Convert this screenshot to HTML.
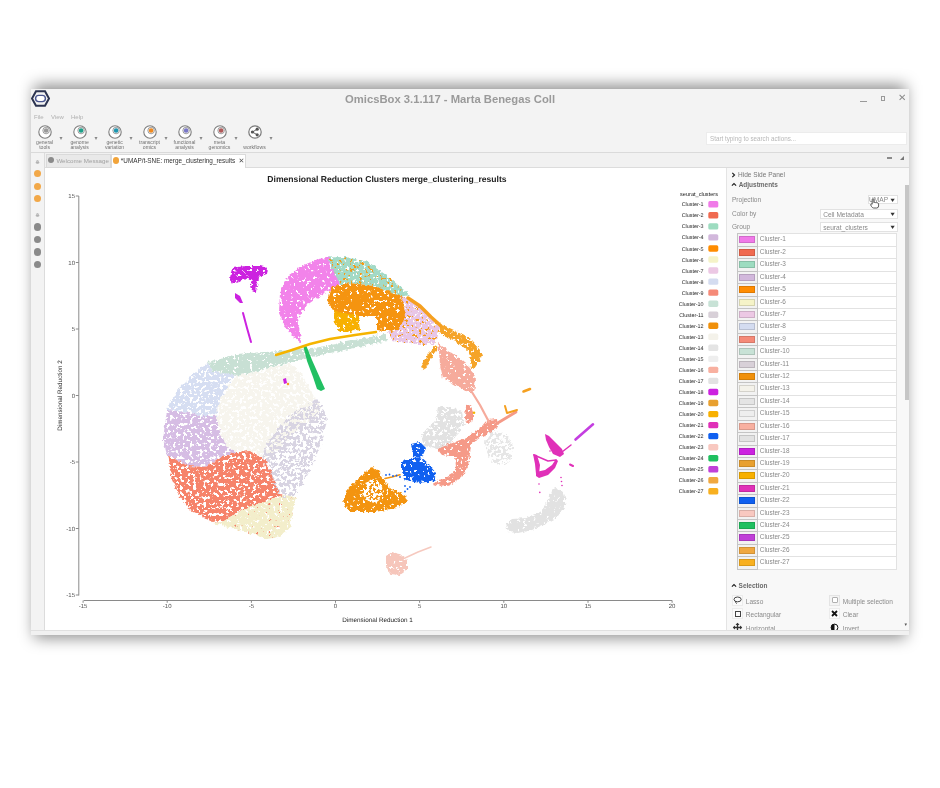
<!DOCTYPE html>
<html><head><meta charset="utf-8"><title>OmicsBox</title>
<style>
*{box-sizing:border-box;margin:0;padding:0}
html,body{width:940px;height:788px;overflow:hidden;background:#fff}
body{filter:blur(.65px)}
body{position:relative;font-family:"Liberation Sans", "DejaVu Sans", sans-serif;color:#555}
.abs{position:absolute}
#shd{position:absolute;left:33.5px;top:85.3px;width:872px;height:553px;background:rgba(0,0,0,.45);filter:blur(7.5px)}
#win{position:absolute;left:30.5px;top:89px;width:878.5px;height:546px;background:#f3f3f3}
#title{position:absolute;left:345px;top:92.5px;white-space:nowrap;font-weight:bold;font-size:11.25px;color:#9a9a9a}
.wc{position:absolute;color:#8a8a8a}
.menu{position:absolute;top:114px;font-size:6px;color:#b0b0b0}
.ti{position:absolute;top:123.7px}
.tl{position:absolute;top:139.6px;width:40px;text-align:center;font-size:5.1px;line-height:5.2px;color:#707070}
.dd{position:absolute;top:133.5px;font-size:6px;color:#888}
#search{position:absolute;left:706px;top:132px;width:200.5px;height:12.5px;background:#fff;border:1px solid #ececec;font-size:6.27px;color:#b8b8b8;padding:2.4px 0 0 3px}
#tbline{position:absolute;left:30.5px;top:152px;width:878.5px;height:1px;background:#dadada}
#tabbar{position:absolute;left:45px;top:153px;width:864px;height:15px;background:#f1f1f1;border-bottom:1px solid #dcdcdc}
.tab{position:absolute;top:154px;height:13.5px;font-size:6.39px;line-height:12.5px;white-space:nowrap}
#sidebar{position:absolute;left:30.5px;top:153px;width:14.5px;height:477px;background:#f3f3f3;border-right:1px solid #dcdcdc}
.sbo{position:absolute;left:34px;width:7.2px;height:7.2px;border-radius:50%;background:#f2a848}
.sbg{position:absolute;left:34px;width:7.2px;height:7.2px;border-radius:50%;background:#8a8a8a}
.sbh{position:absolute;left:35px;font-size:6px;color:#999}
#plot{position:absolute;left:45px;top:168px;width:681px;height:462px;background:#fff}
#rp{position:absolute;left:726px;top:168px;width:183px;height:462px;background:#f8f8f8;border-left:1px solid #e4e4e4}
.rl{position:absolute;font-size:6.55px;color:#8a8a8a;white-space:nowrap}
.sel{position:absolute;background:#fff;border:1px solid #e2e2e2;font-size:6.6px;color:#888;padding:.6px 0 0 2.2px;white-space:nowrap}
.sel b{position:absolute;right:2.5px;top:.3px;font-size:6.5px;color:#333;transform:scaleX(1.3)}
.crow{position:absolute;left:736.6px;width:160.8px;height:13.42px;background:#fff;border:1px solid #e2e2e2}
.cbtn{position:absolute;left:-1px;top:-1px;width:21px;height:13.42px;border:1px solid #c4c4c4;background:#f2f2f2}
.csw{position:absolute;left:1.4px;top:2.2px;width:15.8px;height:7.2px;border:1px solid rgba(0,0,0,.13)}
.crow span{position:absolute;left:22.2px;top:1.2px;font-size:6.45px;color:#888}
#sbar{position:absolute;left:904.6px;top:185px;width:4.4px;height:215px;background:#c6c6c6}
#status{position:absolute;left:30.5px;top:630px;width:878.5px;height:5px;background:#f1f1f1;border-top:1px solid #e0e0e0}
</style></head>
<body>
<div id="shd"></div>
<div id="win"></div>
<svg class="abs" style="left:31px;top:89.5px" width="19" height="17" viewBox="0 0 19 17"><path d="M5 1.2H14L18 8.5L14 15.8H5L1 8.5Z" fill="none" stroke="#2b3350" stroke-width="2"/><rect x="4.6" y="5.4" width="9.8" height="6.2" rx="3.1" fill="#fff" stroke="#4a5690" stroke-width="1.4"/></svg>
<div id="title">OmicsBox 3.1.117 - Marta Benegas Coll</div>
<div class="wc" style="left:860px;top:96px;width:7px;height:1.3px;background:#999;top:100.5px"></div>
<div class="wc" style="left:880.5px;top:96px;width:4.6px;height:4.6px;border:1px solid #9a9a9a"></div>
<div class="wc" style="left:898px;top:91.5px;font-size:10px;color:#8a8a8a">&#x2715;</div>
<div class="menu" style="left:34px">File</div>
<div class="menu" style="left:51px">View</div>
<div class="menu" style="left:71px">Help</div>
<svg class="ti" style="left:36.6px" width="16" height="16" viewBox="0 0 16 16"><circle cx="8" cy="8" r="6.2" fill="#fff" stroke="#7e7e7e" stroke-width="1.1"/><circle cx="9.1" cy="6.5" r="3.3" fill="#f4f4f4" stroke="#8a8a8a" stroke-width=".8"/><circle cx="9.1" cy="6.5" r="2.3" fill="#9a9a9a"/></svg>
<div class="tl" style="left:24.6px">general<br>tools</div>
<div class="dd" style="left:59.6px">&#9662;</div>
<svg class="ti" style="left:71.6px" width="16" height="16" viewBox="0 0 16 16"><circle cx="8" cy="8" r="6.2" fill="#fff" stroke="#7e7e7e" stroke-width="1.1"/><circle cx="9.1" cy="6.5" r="3.3" fill="#f4f4f4" stroke="#8a8a8a" stroke-width=".8"/><circle cx="9.1" cy="6.5" r="2.3" fill="#1ea08a"/></svg>
<div class="tl" style="left:59.6px">genome<br>analysis</div>
<div class="dd" style="left:94.6px">&#9662;</div>
<svg class="ti" style="left:106.6px" width="16" height="16" viewBox="0 0 16 16"><circle cx="8" cy="8" r="6.2" fill="#fff" stroke="#7e7e7e" stroke-width="1.1"/><circle cx="9.1" cy="6.5" r="3.3" fill="#f4f4f4" stroke="#8a8a8a" stroke-width=".8"/><circle cx="9.1" cy="6.5" r="2.3" fill="#1e96b0"/></svg>
<div class="tl" style="left:94.6px">genetic<br>variation</div>
<div class="dd" style="left:129.6px">&#9662;</div>
<svg class="ti" style="left:141.5px" width="16" height="16" viewBox="0 0 16 16"><circle cx="8" cy="8" r="6.2" fill="#fff" stroke="#7e7e7e" stroke-width="1.1"/><circle cx="9.1" cy="6.5" r="3.3" fill="#f4f4f4" stroke="#8a8a8a" stroke-width=".8"/><circle cx="9.1" cy="6.5" r="2.3" fill="#f08a20"/></svg>
<div class="tl" style="left:129.5px">transcript<br>omics</div>
<div class="dd" style="left:164.5px">&#9662;</div>
<svg class="ti" style="left:176.5px" width="16" height="16" viewBox="0 0 16 16"><circle cx="8" cy="8" r="6.2" fill="#fff" stroke="#7e7e7e" stroke-width="1.1"/><circle cx="9.1" cy="6.5" r="3.3" fill="#f4f4f4" stroke="#8a8a8a" stroke-width=".8"/><circle cx="9.1" cy="6.5" r="2.3" fill="#7a78c8"/></svg>
<div class="tl" style="left:164.5px">functional<br>analysis</div>
<div class="dd" style="left:199.5px">&#9662;</div>
<svg class="ti" style="left:211.5px" width="16" height="16" viewBox="0 0 16 16"><circle cx="8" cy="8" r="6.2" fill="#fff" stroke="#7e7e7e" stroke-width="1.1"/><circle cx="9.1" cy="6.5" r="3.3" fill="#f4f4f4" stroke="#8a8a8a" stroke-width=".8"/><circle cx="9.1" cy="6.5" r="2.3" fill="#b05a5a"/></svg>
<div class="tl" style="left:199.5px">meta<br>genomics</div>
<div class="dd" style="left:234.5px">&#9662;</div>
<svg class="ti" style="left:246.5px" width="16" height="16" viewBox="0 0 16 16"><circle cx="8" cy="8" r="6.2" fill="#fff" stroke="#7a7a7a" stroke-width="1.2"/><circle cx="10.2" cy="5.2" r="1.6" fill="#555"/><circle cx="10.2" cy="10.8" r="1.6" fill="#555"/><circle cx="5.4" cy="8" r="1.6" fill="#555"/><path d="M10.2 5.2L5.4 8L10.2 10.8" stroke="#555" stroke-width=".9" fill="none"/></svg>
<div class="tl" style="left:234.5px;top:145px">workflows</div>
<div class="dd" style="left:269.5px">&#9662;</div>
<div id="search">Start typing to search actions...</div>
<div id="tbline"></div>
<div id="tabbar"></div>
<div class="tab" style="left:46px;width:64.5px;background:#e9e9e9;border:1px solid #dadada;color:#a0a0a0;padding-left:9.4px;font-size:6.2px">Welcome Message</div>
<div class="abs" style="left:47.5px;top:157.3px;width:6px;height:6px;border-radius:50%;background:#8a8a8a"></div>
<div class="tab" style="left:110.5px;width:135.5px;background:#fff;border:1px solid #dadada;border-bottom:none;color:#333;padding-left:9.3px">*UMAP/t-SNE: merge_clustering_results</div>
<div class="abs" style="left:112.5px;top:157px;width:6.5px;height:6.5px;border-radius:50%;background:#f2a43a"></div>
<div class="abs" style="left:238.5px;top:157.2px;font-size:7px;color:#555">&#x2715;</div>
<div class="abs" style="left:886.5px;top:157.2px;width:5px;height:1.6px;background:#8a8a8a"></div>
<div class="abs" style="left:900px;top:155.5px;width:0;height:0;border-left:4.5px solid transparent;border-bottom:4.5px solid #777"></div>
<div id="sidebar"></div>
<div class="sbh" style="top:158px">&#8903;</div>
<div class="sbo" style="top:170.3px"></div>
<div class="sbo" style="top:182.6px"></div>
<div class="sbo" style="top:195.0px"></div>
<div class="sbh" style="top:211px">&#8903;</div>
<div class="sbg" style="top:223.4px"></div>
<div class="sbg" style="top:236.0px"></div>
<div class="sbg" style="top:248.4px"></div>
<div class="sbg" style="top:260.8px"></div>
<div id="plot"></div>
<svg class="abs" style="left:45px;top:168px" width="681" height="462" viewBox="45 168 681 462" font-family='"Liberation Sans", "DejaVu Sans", sans-serif' text-rendering="geometricPrecision">
<defs>
<filter id="fd" filterUnits="userSpaceOnUse" x="45" y="168" width="681" height="462" color-interpolation-filters="sRGB"><feTurbulence type="fractalNoise" baseFrequency="0.3" numOctaves="2" seed="3" result="t1"/><feDisplacementMap in="SourceGraphic" in2="t1" scale="5" xChannelSelector="R" yChannelSelector="G" result="dd"/><feTurbulence type="fractalNoise" baseFrequency="0.3" numOctaves="3" seed="26" result="t2"/><feColorMatrix in="t2" type="matrix" values="0 0 0 0 0  0 0 0 0 0  0 0 0 0 0  0 0 16 0 -4.8" result="m"/><feComposite in="dd" in2="m" operator="in"/></filter>
<filter id="fm" filterUnits="userSpaceOnUse" x="45" y="168" width="681" height="462" color-interpolation-filters="sRGB"><feTurbulence type="fractalNoise" baseFrequency="0.3" numOctaves="2" seed="3" result="t1"/><feDisplacementMap in="SourceGraphic" in2="t1" scale="5" xChannelSelector="R" yChannelSelector="G" result="dd"/><feTurbulence type="fractalNoise" baseFrequency="0.3" numOctaves="3" seed="18" result="t2"/><feColorMatrix in="t2" type="matrix" values="0 0 0 0 0  0 0 0 0 0  0 0 0 0 0  0 0 16 0 -5.92" result="m"/><feComposite in="dd" in2="m" operator="in"/></filter>
<filter id="fs" filterUnits="userSpaceOnUse" x="45" y="168" width="681" height="462" color-interpolation-filters="sRGB"><feTurbulence type="fractalNoise" baseFrequency="0.3" numOctaves="2" seed="3" result="t1"/><feDisplacementMap in="SourceGraphic" in2="t1" scale="5" xChannelSelector="R" yChannelSelector="G" result="dd"/><feTurbulence type="fractalNoise" baseFrequency="0.3" numOctaves="3" seed="24" result="t2"/><feColorMatrix in="t2" type="matrix" values="0 0 0 0 0  0 0 0 0 0  0 0 0 0 0  0 0 16 0 -7.36" result="m"/><feComposite in="dd" in2="m" operator="in"/></filter>
<filter id="fv" filterUnits="userSpaceOnUse" x="45" y="168" width="681" height="462" color-interpolation-filters="sRGB"><feTurbulence type="fractalNoise" baseFrequency="0.3" numOctaves="2" seed="3" result="t1"/><feDisplacementMap in="SourceGraphic" in2="t1" scale="5" xChannelSelector="R" yChannelSelector="G" result="dd"/><feTurbulence type="fractalNoise" baseFrequency="0.32" numOctaves="3" seed="27" result="t2"/><feColorMatrix in="t2" type="matrix" values="0 0 0 0 0  0 0 0 0 0  0 0 0 0 0  0 0 16 0 -9.92" result="m"/><feComposite in="dd" in2="m" operator="in"/></filter>
<filter id="fw" filterUnits="userSpaceOnUse" x="45" y="168" width="681" height="462" color-interpolation-filters="sRGB"><feTurbulence type="fractalNoise" baseFrequency="0.3" numOctaves="2" seed="3" result="t1"/><feDisplacementMap in="SourceGraphic" in2="t1" scale="5" xChannelSelector="R" yChannelSelector="G" result="dd"/><feTurbulence type="fractalNoise" baseFrequency="0.32" numOctaves="3" seed="11" result="t2"/><feColorMatrix in="t2" type="matrix" values="0 0 0 0 0  0 0 0 0 0  0 0 0 0 0  0 0 16 0 -11.52" result="m"/><feComposite in="dd" in2="m" operator="in"/></filter>
</defs>
<g filter="url(#fm)">
<polygon fill="#f7f5ee" points="237,376 262,370 290,363 300,372 310,390 320,406 318,416 300,428 285,442 272,456 262,458 256,452 249,452 230,453 222,440 215,424 216,406 224,390"/>
<polygon fill="#d6def2" points="213,371 237,376 232,378 221,398 216,416 202,416 188,412 167,410 170,402 180,387 193,374 208,363"/>
<polygon fill="#d6bde4" points="167,410 188,412 202,416 216,416 219,429 227,448 237,452 222,456 206,467 188,466 167,455 163,440"/>
</g>
<g filter="url(#fs)">
<polygon fill="#d8d4e2" points="290,414 308,406 316,398 321,403 327,419 323,440 312,467 300,488 291,500 279,499 270,476 262,456 268,440 280,426"/>
</g>
<g filter="url(#fm)">
<polygon fill="#f6836a" points="167,455 188,466 206,467 222,456 237,452 250,451 266,461 273,478 279,493 283,495 262,502 241,510 224,521 213,523 198,514 190,510 180,497 172,480"/>
</g>
<g filter="url(#fd)">
<polygon fill="#f3eecb" points="213,523 224,521 241,510 262,502 283,495 296,497 293,510 290,528 280,537 266,539 240,530"/>
</g>
<g filter="url(#fw)">
<polygon fill="#f47c64" points="213,523 224,521 241,510 262,502 283,495 296,497 293,510 290,528 280,537 266,539 240,530"/>
</g>
<g filter="url(#fd)">
<polygon fill="#c8e0d4" points="208,363 236,354 280,351 320,347 350,341 385,334 388,341 350,349 320,355 290,362 262,370 237,376 213,371"/>
<polygon fill="#f283ea" points="330,257.5 318,259 304,265 289,275 280,292 279,313 284,325 292,335 301,343 300,332 297,320 307,305 321,295 335,287 341,284 336,272"/>
<polygon fill="#a3dac6" points="328,257.5 345,257 368,262 386,275 404,290 410,295 400,297 374,286 350,283 340,285 334,272"/>
<polygon fill="#e8c6e6" points="398,296 410,298 421,307 431,318 440,327 437,338 434,344 418,344 400,342 392,340 388,332 396,318"/>
</g>
<g filter="url(#fv)">
<polygon fill="#f59a14" points="328,257.5 345,257 368,262 386,275 404,290 410,295 400,297 374,286 350,283 340,285 334,272"/>
<polygon fill="#f59a14" points="398,296 410,298 421,307 431,318 440,327 437,338 434,344 418,344 400,342 392,340 388,332 396,318"/>
</g>
<g filter="url(#fd)">
<polygon fill="#f59410" points="330,290 333,286 350,283 374,286 400,296 404,302 405,318 398,330 383,331 377,330 377,316 360,316 356,330 340,332 335,320 334,312 327,300"/>
<polygon fill="#f7b000" points="334,312 345,313 358,316 360,330 350,332 340,332 335,322"/>
<polygon fill="#f5a428" points="439,323 456,331 471,340 480,350 482,356 478,363 474,369 470,366 471,358 468,351 456,341 441,335"/>
<polygon fill="#f5a428" points="435,345 439,348 430,360 424,370 420,367 427,356"/>
<polygon fill="#f6ab9c" points="438,343 446,349 459,358 471,368 476,380 474,392 467,392 455,385 443,378 440,365 439,351"/>
</g>
<polygon fill="#22c063" points="303,345 306,345 312,360 320,378 325,389 321,391 317,389 313,377 307,361"/>
<g filter="url(#fd)">
<polygon fill="#cc22e0" points="232,268 245,266 260,266 268,268 267,274 258,277 257,286 256,292 252,290 250,280 244,278 238,282 233,284 230,278"/>
</g>
<polygon fill="#cc22e0" points="235,293 240,296 243,303 240,303 235,298"/>
<polygon fill="#cc22e0" points="283,379 286,378 287,383 284,384"/>
<g filter="url(#fd)">
<polygon fill="#f39410" points="344,498 349,487 356,481 367,471 373,467 378,471 384,479 391,489 401,493 407,497 406,503 396,508 375,512 350,512 345,506"/>
</g>
<g filter="url(#fs)">
<polygon fill="#ffffff" points="366,482 374,478 382,486 384,497 377,503 367,502 362,494"/>
</g>
<g filter="url(#fm)">
<polygon fill="#e2e2e2" points="438,407 452,407 462,412 464,425 460,432 452,440 450,448 436,449 424,446 421,436 428,427 436,420"/>
</g>
<g filter="url(#fs)">
<polygon fill="#e6e6e6" points="486,432 498,430 508,436 513,446 512,458 505,465 494,464 488,455 485,443"/>
</g>
<g filter="url(#fd)">
<polygon fill="#f59a88" points="437,449 450,444 460,440 468,437 471,442 470,455 468,466 462,476 452,484 440,486 434,484 437,480 444,479 452,474 456,466 455,456 450,456 442,455"/>
<polygon fill="#f59a88" points="462,441 472,434 482,427 488,420 497,419 498,428 490,432 480,437 470,444"/>
<polygon fill="#f59a88" points="466,406 470,405 473,412 473,420 468,424 465,418"/>
<polygon fill="#1060f0" points="402,462 412,458 420,457 430,466 436,473 434,481 420,483 406,480 402,472"/>
<polygon fill="#1060f0" points="411,444 420,442 426,448 422,457 413,457"/>
</g>
<polygon fill="#e030b8" points="545,434 549,436 556,443 562,449 564,454 560,457 553,454 549,447 546,440"/>
<polygon fill="#e030b8" points="536,472 545,470 552,465 556,459 558,461 555,468 548,475 539,478 536,476"/>
<polygon fill="#e030b8" points="533,454 537,455 540,465 539,474 536,474 535,464"/>
<g filter="url(#fd)">
<polygon fill="#e2e2e2" points="556,488 563,492 566,500 563,510 556,518 545,524 532,530 518,533 508,532 506,524 512,519 527,518 540,512 546,505 549,496 551,490"/>
<polygon fill="#f6c6bb" points="386,556 392,552 400,554 407,560 407,570 400,575 390,574 386,566"/>
</g>
<polyline fill="none" stroke="#f5a020" stroke-width="3.5" stroke-linecap="round" stroke-linejoin="round" points="408,298 420,306 431,317 441,326"/>
<polyline fill="none" stroke="#f6ab9c" stroke-width="2.2" stroke-linecap="round" stroke-linejoin="round" points="470,389 480,405 489,422"/>
<polyline fill="none" stroke="#f5b400" stroke-width="2.5" stroke-linecap="round" stroke-linejoin="round" points="276,355 292,350 310,344 330,339 355,335 376,332"/>
<polyline fill="none" stroke="#cc22e0" stroke-width="2" stroke-linecap="round" stroke-linejoin="round" points="243,313 247,328 251,342"/>
<polyline fill="none" stroke="#f39410" stroke-width="1.6" stroke-linecap="round" stroke-linejoin="round" points="385,478.5 392,477 400,474.7"/>
<polyline fill="none" stroke="#f59a88" stroke-width="2.8" stroke-linecap="round" stroke-linejoin="round" points="496,424 506,418 516,412"/>
<polyline fill="none" stroke="#e030b8" stroke-width="1.4" stroke-linecap="round" stroke-linejoin="round" points="534,455 548,461 556,460"/>
<polyline fill="none" stroke="#e030b8" stroke-width="1.5" stroke-linecap="round" stroke-linejoin="round" points="562,452 571,445"/>
<polyline fill="none" stroke="#c43ee0" stroke-width="2.6" stroke-linecap="round" stroke-linejoin="round" points="575.5,439.5 593,424.3"/>
<polyline fill="none" stroke="#e030b8" stroke-width="2" stroke-linecap="round" stroke-linejoin="round" points="570,464.5 573,466"/>
<polyline fill="none" stroke="#f6c9bf" stroke-width="1.5" stroke-linecap="round" stroke-linejoin="round" points="405,558 418,552 431,547"/>
<polyline fill="none" stroke="#f5a020" stroke-width="2.6" stroke-linecap="round" stroke-linejoin="round" points="523.5,391.5 530,389"/>
<polyline fill="none" stroke="#f5a020" stroke-width="2" stroke-linecap="round" stroke-linejoin="round" points="505,406 507,413 517,410"/>
<circle fill="#f5a020" cx="288" cy="384" r="1.2"/>
<circle fill="#1060f0" cx="386" cy="475" r="0.9"/>
<circle fill="#1060f0" cx="389.5" cy="474.5" r="0.9"/>
<circle fill="#1060f0" cx="393" cy="476" r="0.9"/>
<circle fill="#1060f0" cx="396.5" cy="475.5" r="0.9"/>
<circle fill="#1060f0" cx="400" cy="477" r="0.9"/>
<circle fill="#1060f0" cx="405" cy="486" r="0.9"/>
<circle fill="#1060f0" cx="407.5" cy="489" r="0.9"/>
<circle fill="#1060f0" cx="405" cy="491.5" r="0.9"/>
<circle fill="#1060f0" cx="410" cy="487" r="0.9"/>
<circle fill="#e030b8" cx="561" cy="477.5" r="0.8"/>
<circle fill="#e030b8" cx="561.5" cy="481.5" r="0.8"/>
<circle fill="#e030b8" cx="562" cy="485.5" r="0.8"/>
<circle fill="#e030b8" cx="539" cy="484" r="0.8"/>
<circle fill="#e030b8" cx="539.8" cy="492.4" r="0.8"/>
<circle fill="#e030b8" cx="550" cy="451" r="0.8"/>
<circle fill="#f5b400" cx="474" cy="412.7" r="1.3"/>
<path d="M78.8 196V595.5" stroke="#8a8a8a" stroke-width="1" fill="none"/>
<path d="M75.8 196.0H78.8" stroke="#8a8a8a" stroke-width="1"/>
<text x="75" y="198.0" text-anchor="end" font-size="6" fill="#555">15</text>
<path d="M75.8 262.5H78.8" stroke="#8a8a8a" stroke-width="1"/>
<text x="75" y="264.5" text-anchor="end" font-size="6" fill="#555">10</text>
<path d="M75.8 329.0H78.8" stroke="#8a8a8a" stroke-width="1"/>
<text x="75" y="331.0" text-anchor="end" font-size="6" fill="#555">5</text>
<path d="M75.8 395.5H78.8" stroke="#8a8a8a" stroke-width="1"/>
<text x="75" y="397.5" text-anchor="end" font-size="6" fill="#555">0</text>
<path d="M75.8 462.0H78.8" stroke="#8a8a8a" stroke-width="1"/>
<text x="75" y="464.0" text-anchor="end" font-size="6" fill="#555">-5</text>
<path d="M75.8 528.5H78.8" stroke="#8a8a8a" stroke-width="1"/>
<text x="75" y="530.5" text-anchor="end" font-size="6" fill="#555">-10</text>
<path d="M75.8 595.0H78.8" stroke="#8a8a8a" stroke-width="1"/>
<text x="75" y="597.0" text-anchor="end" font-size="6" fill="#555">-15</text>
<path d="M83.6 600.5H672.1" stroke="#8a8a8a" stroke-width="1" fill="none"/>
<path d="M83.1 600.5V602.8" stroke="#8a8a8a" stroke-width="1"/>
<text x="83.1" y="608.3" text-anchor="middle" font-size="6" fill="#555">-15</text>
<path d="M167.2 600.5V602.8" stroke="#8a8a8a" stroke-width="1"/>
<text x="167.2" y="608.3" text-anchor="middle" font-size="6" fill="#555">-10</text>
<path d="M251.4 600.5V602.8" stroke="#8a8a8a" stroke-width="1"/>
<text x="251.4" y="608.3" text-anchor="middle" font-size="6" fill="#555">-5</text>
<path d="M335.5 600.5V602.8" stroke="#8a8a8a" stroke-width="1"/>
<text x="335.5" y="608.3" text-anchor="middle" font-size="6" fill="#555">0</text>
<path d="M419.6 600.5V602.8" stroke="#8a8a8a" stroke-width="1"/>
<text x="419.6" y="608.3" text-anchor="middle" font-size="6" fill="#555">5</text>
<path d="M503.8 600.5V602.8" stroke="#8a8a8a" stroke-width="1"/>
<text x="503.8" y="608.3" text-anchor="middle" font-size="6" fill="#555">10</text>
<path d="M588.0 600.5V602.8" stroke="#8a8a8a" stroke-width="1"/>
<text x="588.0" y="608.3" text-anchor="middle" font-size="6" fill="#555">15</text>
<path d="M672.1 600.5V602.8" stroke="#8a8a8a" stroke-width="1"/>
<text x="672.1" y="608.3" text-anchor="middle" font-size="6" fill="#555">20</text>
<text x="377.5" y="621.5" text-anchor="middle" font-size="6.35" fill="#222">Dimensional Reduction 1</text>
<text transform="translate(62 395.5) rotate(-90)" text-anchor="middle" font-size="6.35" fill="#222">Dimensional Reduction 2</text>
<text x="387" y="181.5" text-anchor="middle" font-size="8.6" font-weight="bold" fill="#222">Dimensional Reduction Clusters merge_clustering_results</text>
<text x="718" y="195.6" text-anchor="end" font-size="5.6" fill="#222">seurat_clusters</text>
<text x="703.6" y="206.3" text-anchor="end" font-size="5.4" fill="#222">Cluster-1</text>
<rect x="708.3" y="201.1" width="10" height="6.4" rx="1.6" fill="#f07ae8"/>
<text x="703.6" y="217.3" text-anchor="end" font-size="5.4" fill="#222">Cluster-2</text>
<rect x="708.3" y="212.1" width="10" height="6.4" rx="1.6" fill="#f06a50"/>
<text x="703.6" y="228.4" text-anchor="end" font-size="5.4" fill="#222">Cluster-3</text>
<rect x="708.3" y="223.2" width="10" height="6.4" rx="1.6" fill="#9ddcc0"/>
<text x="703.6" y="239.4" text-anchor="end" font-size="5.4" fill="#222">Cluster-4</text>
<rect x="708.3" y="234.2" width="10" height="6.4" rx="1.6" fill="#d2b8dc"/>
<text x="703.6" y="250.5" text-anchor="end" font-size="5.4" fill="#222">Cluster-5</text>
<rect x="708.3" y="245.3" width="10" height="6.4" rx="1.6" fill="#ff8c00"/>
<text x="703.6" y="261.5" text-anchor="end" font-size="5.4" fill="#222">Cluster-6</text>
<rect x="708.3" y="256.3" width="10" height="6.4" rx="1.6" fill="#f5f3c8"/>
<text x="703.6" y="272.5" text-anchor="end" font-size="5.4" fill="#222">Cluster-7</text>
<rect x="708.3" y="267.3" width="10" height="6.4" rx="1.6" fill="#ecc8e4"/>
<text x="703.6" y="283.6" text-anchor="end" font-size="5.4" fill="#222">Cluster-8</text>
<rect x="708.3" y="278.4" width="10" height="6.4" rx="1.6" fill="#d4dcf0"/>
<text x="703.6" y="294.6" text-anchor="end" font-size="5.4" fill="#222">Cluster-9</text>
<rect x="708.3" y="289.4" width="10" height="6.4" rx="1.6" fill="#f58a78"/>
<text x="703.6" y="305.7" text-anchor="end" font-size="5.4" fill="#222">Cluster-10</text>
<rect x="708.3" y="300.5" width="10" height="6.4" rx="1.6" fill="#c8e2d6"/>
<text x="703.6" y="316.7" text-anchor="end" font-size="5.4" fill="#222">Cluster-11</text>
<rect x="708.3" y="311.5" width="10" height="6.4" rx="1.6" fill="#d8d0d8"/>
<text x="703.6" y="327.7" text-anchor="end" font-size="5.4" fill="#222">Cluster-12</text>
<rect x="708.3" y="322.5" width="10" height="6.4" rx="1.6" fill="#f0900a"/>
<text x="703.6" y="338.8" text-anchor="end" font-size="5.4" fill="#222">Cluster-13</text>
<rect x="708.3" y="333.6" width="10" height="6.4" rx="1.6" fill="#f4f2ea"/>
<text x="703.6" y="349.8" text-anchor="end" font-size="5.4" fill="#222">Cluster-14</text>
<rect x="708.3" y="344.6" width="10" height="6.4" rx="1.6" fill="#e4e4e4"/>
<text x="703.6" y="360.9" text-anchor="end" font-size="5.4" fill="#222">Cluster-15</text>
<rect x="708.3" y="355.7" width="10" height="6.4" rx="1.6" fill="#eeeeee"/>
<text x="703.6" y="371.9" text-anchor="end" font-size="5.4" fill="#222">Cluster-16</text>
<rect x="708.3" y="366.7" width="10" height="6.4" rx="1.6" fill="#f8b0a0"/>
<text x="703.6" y="382.9" text-anchor="end" font-size="5.4" fill="#222">Cluster-17</text>
<rect x="708.3" y="377.7" width="10" height="6.4" rx="1.6" fill="#e2e2e2"/>
<text x="703.6" y="394.0" text-anchor="end" font-size="5.4" fill="#222">Cluster-18</text>
<rect x="708.3" y="388.8" width="10" height="6.4" rx="1.6" fill="#cc22e0"/>
<text x="703.6" y="405.0" text-anchor="end" font-size="5.4" fill="#222">Cluster-19</text>
<rect x="708.3" y="399.8" width="10" height="6.4" rx="1.6" fill="#e8a030"/>
<text x="703.6" y="416.1" text-anchor="end" font-size="5.4" fill="#222">Cluster-20</text>
<rect x="708.3" y="410.9" width="10" height="6.4" rx="1.6" fill="#f8b000"/>
<text x="703.6" y="427.1" text-anchor="end" font-size="5.4" fill="#222">Cluster-21</text>
<rect x="708.3" y="421.9" width="10" height="6.4" rx="1.6" fill="#e030b8"/>
<text x="703.6" y="438.1" text-anchor="end" font-size="5.4" fill="#222">Cluster-22</text>
<rect x="708.3" y="432.9" width="10" height="6.4" rx="1.6" fill="#1060f0"/>
<text x="703.6" y="449.2" text-anchor="end" font-size="5.4" fill="#222">Cluster-23</text>
<rect x="708.3" y="444.0" width="10" height="6.4" rx="1.6" fill="#f8c8c0"/>
<text x="703.6" y="460.2" text-anchor="end" font-size="5.4" fill="#222">Cluster-24</text>
<rect x="708.3" y="455.0" width="10" height="6.4" rx="1.6" fill="#20c060"/>
<text x="703.6" y="471.3" text-anchor="end" font-size="5.4" fill="#222">Cluster-25</text>
<rect x="708.3" y="466.1" width="10" height="6.4" rx="1.6" fill="#c040d8"/>
<text x="703.6" y="482.3" text-anchor="end" font-size="5.4" fill="#222">Cluster-26</text>
<rect x="708.3" y="477.1" width="10" height="6.4" rx="1.6" fill="#f0a840"/>
<text x="703.6" y="493.3" text-anchor="end" font-size="5.4" fill="#222">Cluster-27</text>
<rect x="708.3" y="488.1" width="10" height="6.4" rx="1.6" fill="#f8b020"/>
</svg>
<div id="rp"></div>
<svg class="abs" style="left:730.5px;top:171.5px" width="5" height="6" viewBox="0 0 5 6"><path d="M1.3 .9L3.5 3L1.3 5.1" fill="none" stroke="#222" stroke-width="1.2"/></svg>
<div class="rl" style="left:738px;top:170.5px;color:#777">Hide Side Panel</div>
<svg class="abs" style="left:730.5px;top:182px" width="6" height="5" viewBox="0 0 6 5"><path d="M.9 3.6L3 1.5L5.1 3.6" fill="none" stroke="#222" stroke-width="1.2"/></svg>
<div class="rl" style="left:738.7px;top:180.5px;font-weight:bold;color:#6a6a6a;font-size:6.47px">Adjustments</div>
<div class="rl" style="left:732px;top:195.5px">Projection</div>
<div class="sel" style="left:867.7px;top:194.7px;width:30.2px;height:9.4px;padding:0 0 0 .3px">UMAP<b>&#9662;</b></div>
<svg class="abs" style="left:869.5px;top:198px" width="10" height="11" viewBox="0 0 10 11"><path d="M2.2 6.2V1.6Q2.2 .8 3 .8Q3.8 .8 3.8 1.6V4.6Q4.6 4.2 5.4 4.6Q6.2 4.3 7 4.9Q8.2 4.7 8.6 5.6V8Q8.6 9.8 6.8 10H3.6Q2.4 9.9 1.6 8.6L.7 7Q.5 6.2 1.3 6Z" fill="#fff" stroke="#333" stroke-width=".8" stroke-linejoin="round"/></svg>
<div class="rl" style="left:732px;top:210px">Color by</div>
<div class="sel" style="left:820px;top:209px;width:77.5px;height:9.5px">Cell Metadata<b>&#9662;</b></div>
<div class="rl" style="left:732px;top:223px">Group</div>
<div class="sel" style="left:820px;top:222px;width:77.5px;height:9.5px">seurat_clusters<b>&#9662;</b></div>
<div class="abs" style="left:736.6px;top:232.9px;width:160.8px;height:1px;background:#e4e4e4"></div>
<div class="crow" style="top:233px;height:14px"><div class="cbtn" style="height:14px"><div class="csw" style="background:#f07ae8"></div></div><span>Cluster-1</span></div>
<div class="crow" style="top:246px;height:13px"><div class="cbtn" style="height:13px"><div class="csw" style="background:#f06a50"></div></div><span>Cluster-2</span></div>
<div class="crow" style="top:258px;height:14px"><div class="cbtn" style="height:14px"><div class="csw" style="background:#9ddcc0"></div></div><span>Cluster-3</span></div>
<div class="crow" style="top:271px;height:13px"><div class="cbtn" style="height:13px"><div class="csw" style="background:#d2b8dc"></div></div><span>Cluster-4</span></div>
<div class="crow" style="top:283px;height:14px"><div class="cbtn" style="height:14px"><div class="csw" style="background:#ff8c00"></div></div><span>Cluster-5</span></div>
<div class="crow" style="top:296px;height:13px"><div class="cbtn" style="height:13px"><div class="csw" style="background:#f5f3c8"></div></div><span>Cluster-6</span></div>
<div class="crow" style="top:308px;height:13px"><div class="cbtn" style="height:13px"><div class="csw" style="background:#ecc8e4"></div></div><span>Cluster-7</span></div>
<div class="crow" style="top:320px;height:14px"><div class="cbtn" style="height:14px"><div class="csw" style="background:#d4dcf0"></div></div><span>Cluster-8</span></div>
<div class="crow" style="top:333px;height:13px"><div class="cbtn" style="height:13px"><div class="csw" style="background:#f58a78"></div></div><span>Cluster-9</span></div>
<div class="crow" style="top:345px;height:14px"><div class="cbtn" style="height:14px"><div class="csw" style="background:#c8e2d6"></div></div><span>Cluster-10</span></div>
<div class="crow" style="top:358px;height:13px"><div class="cbtn" style="height:13px"><div class="csw" style="background:#d8d0d8"></div></div><span>Cluster-11</span></div>
<div class="crow" style="top:370px;height:13px"><div class="cbtn" style="height:13px"><div class="csw" style="background:#f0900a"></div></div><span>Cluster-12</span></div>
<div class="crow" style="top:382px;height:14px"><div class="cbtn" style="height:14px"><div class="csw" style="background:#f4f2ea"></div></div><span>Cluster-13</span></div>
<div class="crow" style="top:395px;height:13px"><div class="cbtn" style="height:13px"><div class="csw" style="background:#e4e4e4"></div></div><span>Cluster-14</span></div>
<div class="crow" style="top:407px;height:14px"><div class="cbtn" style="height:14px"><div class="csw" style="background:#eeeeee"></div></div><span>Cluster-15</span></div>
<div class="crow" style="top:420px;height:13px"><div class="cbtn" style="height:13px"><div class="csw" style="background:#f8b0a0"></div></div><span>Cluster-16</span></div>
<div class="crow" style="top:432px;height:14px"><div class="cbtn" style="height:14px"><div class="csw" style="background:#e2e2e2"></div></div><span>Cluster-17</span></div>
<div class="crow" style="top:445px;height:13px"><div class="cbtn" style="height:13px"><div class="csw" style="background:#cc22e0"></div></div><span>Cluster-18</span></div>
<div class="crow" style="top:457px;height:13px"><div class="cbtn" style="height:13px"><div class="csw" style="background:#e8a030"></div></div><span>Cluster-19</span></div>
<div class="crow" style="top:469px;height:14px"><div class="cbtn" style="height:14px"><div class="csw" style="background:#f8b000"></div></div><span>Cluster-20</span></div>
<div class="crow" style="top:482px;height:13px"><div class="cbtn" style="height:13px"><div class="csw" style="background:#e030b8"></div></div><span>Cluster-21</span></div>
<div class="crow" style="top:494px;height:14px"><div class="cbtn" style="height:14px"><div class="csw" style="background:#1060f0"></div></div><span>Cluster-22</span></div>
<div class="crow" style="top:507px;height:13px"><div class="cbtn" style="height:13px"><div class="csw" style="background:#f8c8c0"></div></div><span>Cluster-23</span></div>
<div class="crow" style="top:519px;height:13px"><div class="cbtn" style="height:13px"><div class="csw" style="background:#20c060"></div></div><span>Cluster-24</span></div>
<div class="crow" style="top:531px;height:14px"><div class="cbtn" style="height:14px"><div class="csw" style="background:#c040d8"></div></div><span>Cluster-25</span></div>
<div class="crow" style="top:544px;height:13px"><div class="cbtn" style="height:13px"><div class="csw" style="background:#f0a840"></div></div><span>Cluster-26</span></div>
<div class="crow" style="top:556px;height:14px"><div class="cbtn" style="height:14px"><div class="csw" style="background:#f8b020"></div></div><span>Cluster-27</span></div>
<svg class="abs" style="left:730.5px;top:582.7px" width="6" height="5" viewBox="0 0 6 5"><path d="M.9 3.6L3 1.5L5.1 3.6" fill="none" stroke="#222" stroke-width="1.2"/></svg>
<div class="rl" style="left:738.6px;top:581.5px;font-weight:bold;color:#6a6a6a;font-size:6.47px">Selection</div>
<div class="abs" style="left:732.4px;top:594.6px;width:11px;height:11px;border:1px solid #ececec;background:#fbfbfb"></div>
<svg class="abs" style="left:732.4px;top:594.6px" width="11" height="11" viewBox="0 0 11 11"><ellipse cx="5.6" cy="4.4" rx="3.6" ry="2.4" fill="none" stroke="#333" stroke-width=".9"/><path d="M3.6 6.3Q3.4 8 4.8 8.6" fill="none" stroke="#333" stroke-width=".9"/></svg>
<div class="rl" style="left:745.8px;top:597.5px">Lasso</div>
<div class="abs" style="left:732.4px;top:608.4px;width:11px;height:11px;border:1px solid #ececec;background:#fbfbfb"></div>
<div class="abs" style="left:734.8px;top:610.8px;width:6.2px;height:6.2px;border:1px solid #444"></div>
<div class="rl" style="left:745.8px;top:611px">Rectangular</div>
<svg class="abs" style="left:732.4px;top:622px" width="11" height="11" viewBox="0 0 11 11"><path d="M5.5 1.5V9.5M1.5 5.5H9.5" stroke="#333" stroke-width="1.3"/><path d="M3.5 3L5.5 .8L7.5 3ZM3.5 8L5.5 10.2L7.5 8ZM3 3.5L.8 5.5L3 7.5ZM8 3.5L10.2 5.5L8 7.5Z" fill="#333"/></svg>
<div class="rl" style="left:745.8px;top:624.5px">Horizontal</div>
<div class="abs" style="left:829px;top:594.6px;width:11px;height:11px;border:1px solid #e4e4e4;background:#f4f4f4"></div>
<div class="abs" style="left:831.6px;top:597.2px;width:6px;height:6px;border:1px solid #b0b0b0;background:#fff;border-radius:1px"></div>
<div class="rl" style="left:842.7px;top:597.5px">Multiple selection</div>
<div class="abs" style="left:829px;top:608.4px;width:11px;height:11px;border:1px solid #ececec;background:#fbfbfb"></div>
<svg class="abs" style="left:829px;top:608.4px" width="11" height="11" viewBox="0 0 11 11"><path d="M3 3L8 8M8 3L3 8" stroke="#111" stroke-width="1.8"/></svg>
<div class="rl" style="left:842.7px;top:611px">Clear</div>
<svg class="abs" style="left:829px;top:622px" width="11" height="11" viewBox="0 0 11 11"><circle cx="5.5" cy="5.5" r="3.4" fill="#fff" stroke="#111" stroke-width="1"/><path d="M5.5 2.1A3.4 3.4 0 0 0 5.5 8.9Z" fill="#111"/></svg>
<div class="rl" style="left:842.7px;top:624.5px">Invert</div>
<div class="abs" style="left:904.5px;top:621px;font-size:5px;color:#555">&#9662;</div>
<div id="sbar"></div>
<div id="status"></div>
</body></html>
